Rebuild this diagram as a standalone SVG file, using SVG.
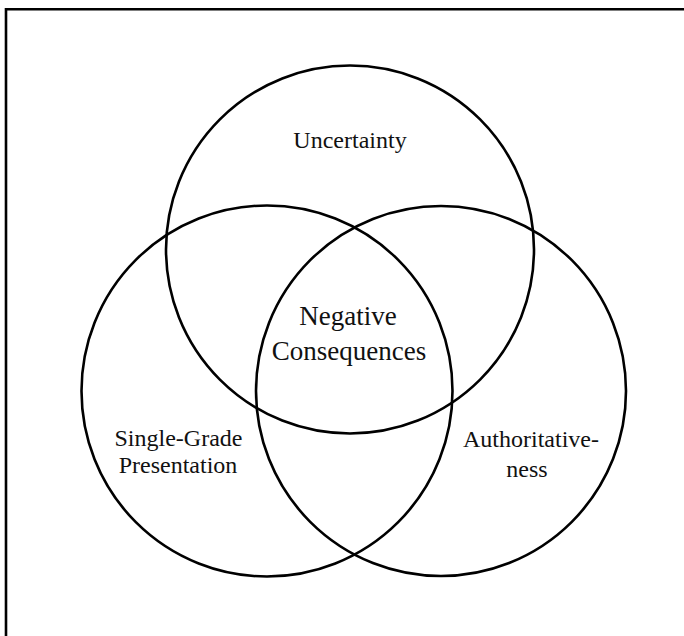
<svg xmlns="http://www.w3.org/2000/svg" width="684" height="636" viewBox="0 0 684 636">
<style>
.c{fill:none;stroke:#000;stroke-width:2.6}
.t{font-family:"Liberation Serif","Times New Roman",serif;font-size:24px;fill:#111;text-anchor:middle}
.big{font-size:27px}
</style>
<rect width="684" height="636" fill="#fff"/>
<path d="M6,640 V9.2 H690" fill="none" stroke="#000" stroke-width="2.6"/>
<g id="uncertainty">
<circle class="c" cx="350" cy="249.5" r="184"/>
<text class="t" x="350" y="148">Uncertainty</text>
</g>
<g id="single-grade">
<circle class="c" cx="267" cy="391" r="185.5"/>
<text class="t" x="178.5" y="446">Single-Grade</text>
<text class="t" x="178" y="473">Presentation</text>
</g>
<g id="authoritativeness">
<circle class="c" cx="441" cy="391" r="185"/>
<text class="t" x="531" y="447">Authoritative-</text>
<text class="t" x="527" y="477">ness</text>
</g>
<g id="negative-consequences">
<text class="t big" x="348" y="325">Negative</text>
<text class="t big" x="349" y="360">Consequences</text>
</g>
<g id="connectors"/>
</svg>
